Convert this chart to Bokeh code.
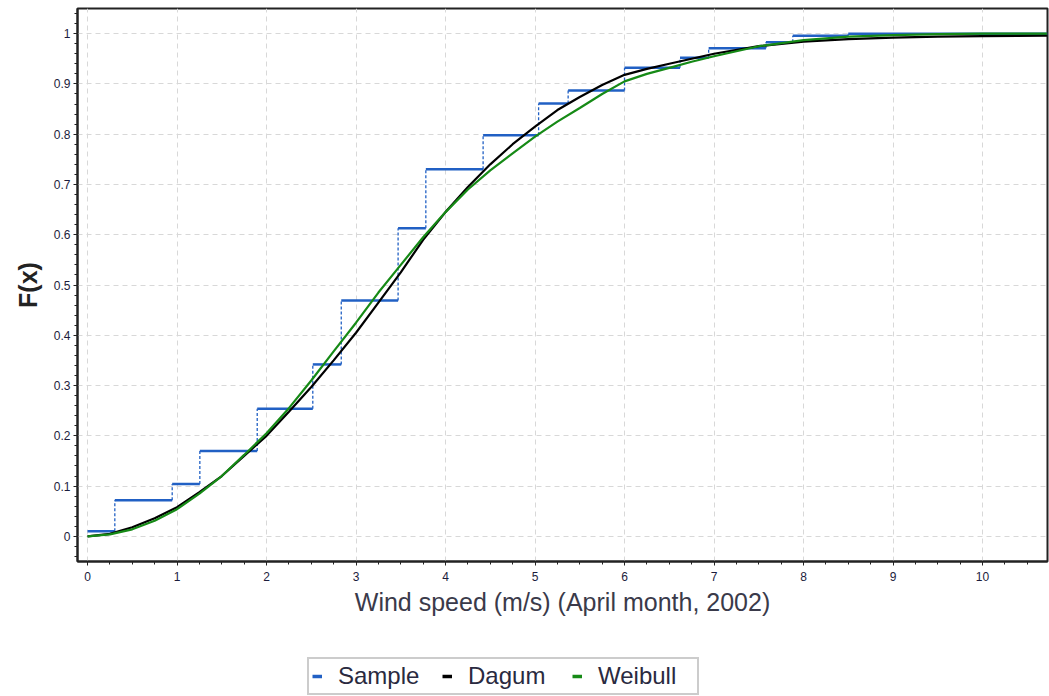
from bokeh.plotting import figure
from bokeh.layouts import column
from bokeh.models import (ColumnDataSource, Legend, LegendItem, FixedTicker,
                          CustomJSTickFormatter, Range1d)
from bokeh.embed import file_html
from bokeh.resources import INLINE

# ---- data ----
sample_x = [0, 0.305, 0.946, 1.255, 1.896, 2.517, 2.835, 3.47, 3.78, 4.42,
            5.04, 5.37, 6.0, 6.62, 6.94, 7.58, 7.88, 8.5]
sample_F = [0.01, 0.072, 0.104, 0.17, 0.254, 0.342, 0.469, 0.613, 0.730, 0.798,
            0.861, 0.887, 0.932, 0.952, 0.971, 0.983, 0.996, 1.0]

curve_x = [0, 0.25, 0.5, 0.75, 1, 1.25, 1.5, 1.75, 2, 2.25, 2.5, 2.75, 3, 3.25,
           3.5, 3.75, 4, 4.25, 4.5, 4.75, 5, 5.25, 5.5, 5.75, 6, 6.25, 6.5,
           6.75, 7, 7.5, 8, 8.5, 9, 9.5, 10, 10.72]
dagum_F = [0, 0.005, 0.018, 0.036, 0.058, 0.088, 0.12, 0.16, 0.20, 0.248,
           0.297, 0.35, 0.405, 0.465, 0.525, 0.59, 0.645, 0.695, 0.74, 0.78,
           0.815, 0.848, 0.874, 0.898, 0.918, 0.93, 0.94, 0.95, 0.96, 0.975,
           0.984, 0.989, 0.992, 0.994, 0.995, 0.996]
weibull_F = [0, 0.004, 0.014, 0.031, 0.054, 0.085, 0.12, 0.162, 0.205, 0.255,
             0.31, 0.368, 0.425, 0.485, 0.54, 0.595, 0.645, 0.69, 0.728, 0.762,
             0.795, 0.825, 0.852, 0.88, 0.905, 0.92, 0.932, 0.944, 0.955, 0.975,
             0.987, 0.994, 0.997, 0.999, 1.0, 1.0]

series_names = ["Sample", "Dagum", "Weibull"]

x_ticks = [0, 1, 2, 3, 4, 5, 6, 7, 8, 9, 10]
y_ticks = [0, 0.1, 0.2, 0.3, 0.4, 0.5, 0.6, 0.7, 0.8, 0.9, 1.0]

X_MIN, X_MAX = -0.112, 10.726
Y_MIN, Y_MAX = -0.05, 1.05

BLUE = "#2160c4"
BLACK = "#000000"
GREEN = "#168a16"
FONT = "Liberation Sans"

p = figure(width=1049, height=630, output_backend="svg", toolbar_location=None,
           x_range=Range1d(X_MIN, X_MAX), y_range=Range1d(Y_MIN, Y_MAX),
           min_border_left=77, min_border_right=2, min_border_top=8,
           min_border_bottom=69)
p.background_fill_color = "white"
p.border_fill_color = "white"
p.outline_line_color = "#222222"
p.outline_line_width = 2

# grid
p.xgrid.ticker = FixedTicker(ticks=x_ticks)
p.ygrid.ticker = FixedTicker(ticks=y_ticks)
for g in (p.xgrid, p.ygrid):
    g.grid_line_color = "#d8d8d8"
    g.grid_line_dash = "5 4"
    g.grid_line_width = 1

# axes
minor_x = [i * 0.25 for i in range(0, 44)]
minor_y = [round(-0.04 + i * 0.02, 2) for i in range(0, 55)]
p.xaxis.ticker = FixedTicker(ticks=x_ticks, minor_ticks=minor_x)
p.yaxis.ticker = FixedTicker(ticks=y_ticks, minor_ticks=minor_y)
fmt = CustomJSTickFormatter(code="return tick.toFixed(1).replace(/\\.0$/, '');")
p.xaxis.formatter = fmt
p.yaxis.formatter = fmt
for ax in (p.xaxis, p.yaxis):
    ax.axis_line_color = "#222222"
    ax.axis_line_width = 2
    ax.major_tick_line_color = "#222222"
    ax.minor_tick_line_color = "#222222"
    ax.major_tick_out = 4
    ax.major_tick_in = 0
    ax.minor_tick_out = 3
    ax.minor_tick_in = 0
    ax.major_label_text_font = FONT
    ax.major_label_text_font_size = "12px"
    ax.major_label_text_color = "#1c1c3c"
    ax.axis_label_text_font = FONT
p.xaxis.major_label_standoff = 6
p.yaxis.major_label_standoff = 3
p.xaxis.axis_label = "Wind speed (m/s) (April month, 2002)"
p.xaxis.axis_label_text_font_size = "25px"
p.xaxis.axis_label_text_font_style = "normal"
p.xaxis.axis_label_text_color = "#3a3a4a"
p.xaxis.axis_label_standoff = 4
p.yaxis.axis_label = "F(x)"
p.yaxis.axis_label_text_font_size = "25px"
p.yaxis.axis_label_text_font_style = "bold"
p.yaxis.axis_label_text_color = "#222222"
p.yaxis.axis_label_standoff = 9

# sample step function
h_src = ColumnDataSource(dict(x0=sample_x, x1=sample_x[1:] + [X_MAX], y=sample_F))
v_src = ColumnDataSource(dict(x=sample_x[1:], y0=sample_F[:-1], y1=sample_F[1:]))
p.segment(x0="x0", y0="y", x1="x1", y1="y", source=h_src,
          line_color=BLUE, line_width=2.5)
p.segment(x0="x", y0="y0", x1="x", y1="y1", source=v_src,
          line_color=BLUE, line_width=1.3, line_dash="3 2")

# fitted curves
p.line(curve_x, dagum_F, line_color=BLACK, line_width=2.2)
p.line(curve_x, weibull_F, line_color=GREEN, line_width=2.2)

# ---- legend strip below the chart ----
lg = figure(width=1049, height=66, output_backend="svg", toolbar_location=None,
            x_range=Range1d(0, 1), y_range=Range1d(0, 1),
            x_axis_type=None, y_axis_type=None,
            min_border_left=0, min_border_right=0, min_border_top=0,
            min_border_bottom=0)
lg.outline_line_color = None
lg.grid.visible = False
lg.border_fill_color = "white"
# legend proxies: a single point each, outside the visible range
proxies = [lg.line([-5], [-5], line_color=c, line_width=3.5)
           for c in (BLUE, BLACK, GREEN)]

legend = Legend(items=[LegendItem(label=n, renderers=[r])
                       for n, r in zip(series_names, proxies)],
                orientation="horizontal", location=(230, 1))
legend.label_text_font = FONT
legend.label_text_font_size = "24px"
legend.label_text_color = "#2a2a40"
legend.label_width = 96
legend.glyph_width = 10
legend.glyph_height = 20
legend.label_standoff = 16
legend.spacing = 8
legend.padding = 3
legend.margin = 0
legend.border_line_color = "#999999"
legend.border_line_width = 2
legend.background_fill_color = "white"
legend.background_fill_alpha = 1
lg.add_layout(legend, "center")

open("out.html", "w").write(file_html(column(p, lg, spacing=0), INLINE))
